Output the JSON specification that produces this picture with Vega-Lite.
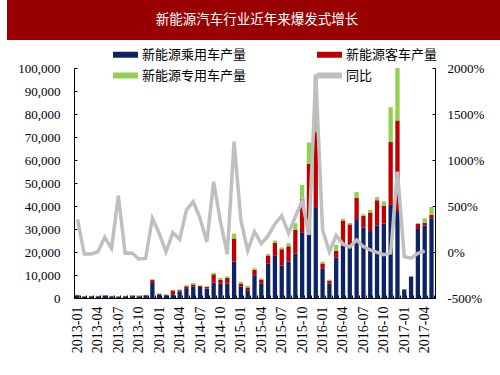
{
  "$schema": "https://vega.github.io/schema/vega-lite/v6.json",
  "padding": 0,
  "background": "white",
  "spacing": 0,
  "config": {"view": {"stroke": null}, "font": "Liberation Serif"},
  "vconcat": [
    {
      "width": 500,
      "height": 40,
      "view": {"fill": "#990000", "stroke": null},
      "data": {"values": [{"title": "新能源汽车行业近年来爆发式增长"}]},
      "mark": {"type": "text", "color": "white", "font": "Noto Sans CJK SC", "fontSize": 13.5},
      "encoding": {"text": {"field": "title"}}
    },
    {
      "width": 500,
      "height": 258,
      "data": {
        "values": [
          {"m": "2013-01", "a_passenger": 1000, "b_bus": 300, "c_special": 100, "yoy": 355},
          {"m": "2013-02", "a_passenger": 600, "b_bus": 200, "c_special": 100, "yoy": -22},
          {"m": "2013-03", "a_passenger": 700, "b_bus": 200, "c_special": 100, "yoy": -22},
          {"m": "2013-04", "a_passenger": 600, "b_bus": 300, "c_special": 100, "yoy": 3},
          {"m": "2013-05", "a_passenger": 900, "b_bus": 300, "c_special": 100, "yoy": 160},
          {"m": "2013-06", "a_passenger": 700, "b_bus": 200, "c_special": 100, "yoy": 40},
          {"m": "2013-07", "a_passenger": 500, "b_bus": 200, "c_special": 100, "yoy": 612},
          {"m": "2013-08", "a_passenger": 600, "b_bus": 300, "c_special": 100, "yoy": -14},
          {"m": "2013-09", "a_passenger": 800, "b_bus": 300, "c_special": 100, "yoy": -10},
          {"m": "2013-10", "a_passenger": 700, "b_bus": 300, "c_special": 100, "yoy": -76},
          {"m": "2013-11", "a_passenger": 1000, "b_bus": 300, "c_special": 100, "yoy": -70},
          {"m": "2013-12", "a_passenger": 6500, "b_bus": 1300, "c_special": 400, "yoy": 366},
          {"m": "2014-01", "a_passenger": 1500, "b_bus": 300, "c_special": 200, "yoy": 203},
          {"m": "2014-02", "a_passenger": 1200, "b_bus": 200, "c_special": 200, "yoy": 3},
          {"m": "2014-03", "a_passenger": 1600, "b_bus": 1700, "c_special": 300, "yoy": 210},
          {"m": "2014-04", "a_passenger": 2900, "b_bus": 500, "c_special": 300, "yoy": 138},
          {"m": "2014-05", "a_passenger": 3900, "b_bus": 1200, "c_special": 400, "yoy": 456},
          {"m": "2014-06", "a_passenger": 5100, "b_bus": 800, "c_special": 600, "yoy": 547},
          {"m": "2014-07", "a_passenger": 4800, "b_bus": 400, "c_special": 300, "yoy": 366},
          {"m": "2014-08", "a_passenger": 4100, "b_bus": 700, "c_special": 300, "yoy": 112},
          {"m": "2014-09", "a_passenger": 6700, "b_bus": 3600, "c_special": 600, "yoy": 764},
          {"m": "2014-10", "a_passenger": 6200, "b_bus": 1800, "c_special": 700, "yoy": 329},
          {"m": "2014-11", "a_passenger": 6200, "b_bus": 2600, "c_special": 600, "yoy": -22},
          {"m": "2014-12", "a_passenger": 15900, "b_bus": 10000, "c_special": 2100, "yoy": 1200},
          {"m": "2015-01", "a_passenger": 5000, "b_bus": 1300, "c_special": 700, "yoy": 345},
          {"m": "2015-02", "a_passenger": 3400, "b_bus": 1200, "c_special": 700, "yoy": 16},
          {"m": "2015-03", "a_passenger": 9900, "b_bus": 2400, "c_special": 600, "yoy": 221},
          {"m": "2015-04", "a_passenger": 6200, "b_bus": 1800, "c_special": 500, "yoy": 90},
          {"m": "2015-05", "a_passenger": 14900, "b_bus": 3600, "c_special": 600, "yoy": 178},
          {"m": "2015-06", "a_passenger": 18300, "b_bus": 5600, "c_special": 1100, "yoy": 305},
          {"m": "2015-07", "a_passenger": 14200, "b_bus": 7000, "c_special": 800, "yoy": 395},
          {"m": "2015-08", "a_passenger": 15900, "b_bus": 6600, "c_special": 1300, "yoy": 203},
          {"m": "2015-09", "a_passenger": 19400, "b_bus": 10200, "c_special": 2900, "yoy": 384},
          {"m": "2015-10", "a_passenger": 28600, "b_bus": 14500, "c_special": 6100, "yoy": 555},
          {"m": "2015-11", "a_passenger": 28000, "b_bus": 30400, "c_special": 9200, "yoy": 185},
          {"m": "2015-12", "a_passenger": 39500, "b_bus": 32600, "c_special": 24700, "yoy": 1930},
          {"m": "2016-01", "a_passenger": 12700, "b_bus": 2300, "c_special": 800, "yoy": 239},
          {"m": "2016-02", "a_passenger": 6200, "b_bus": 1200, "c_special": 600, "yoy": 3},
          {"m": "2016-03", "a_passenger": 17500, "b_bus": 3100, "c_special": 2500, "yoy": 180},
          {"m": "2016-04", "a_passenger": 22900, "b_bus": 10800, "c_special": 800, "yoy": 85},
          {"m": "2016-05", "a_passenger": 23900, "b_bus": 8100, "c_special": 600, "yoy": 55},
          {"m": "2016-06", "a_passenger": 33900, "b_bus": 9600, "c_special": 2500, "yoy": 130},
          {"m": "2016-07", "a_passenger": 30600, "b_bus": 5100, "c_special": 700, "yoy": 58},
          {"m": "2016-08", "a_passenger": 29100, "b_bus": 8100, "c_special": 1100, "yoy": 22},
          {"m": "2016-09", "a_passenger": 31600, "b_bus": 10900, "c_special": 1400, "yoy": -5},
          {"m": "2016-10", "a_passenger": 32300, "b_bus": 7700, "c_special": 2000, "yoy": -30},
          {"m": "2016-11", "a_passenger": 40500, "b_bus": 27300, "c_special": 15100, "yoy": -10},
          {"m": "2016-12", "a_passenger": 37800, "b_bus": 39400, "c_special": 22800, "yoy": 873},
          {"m": "2017-01", "a_passenger": 3700, "b_bus": 100, "c_special": 100, "yoy": -51},
          {"m": "2017-02", "a_passenger": 9300, "b_bus": 100, "c_special": 100, "yoy": -67},
          {"m": "2017-03", "a_passenger": 30000, "b_bus": 2200, "c_special": 400, "yoy": -14},
          {"m": "2017-04", "a_passenger": 31500, "b_bus": 1200, "c_special": 2000, "yoy": 11},
          {"m": "2017-05", "a_passenger": 34400, "b_bus": 1800, "c_special": 3400, "yoy": null}
        ]
      },
      "layer": [
        {
          "transform": [{"fold": ["a_passenger", "b_bus", "c_special"], "as": ["series", "value"]}],
          "mark": {"type": "bar"},
          "encoding": {
            "x": {
              "field": "m",
              "type": "ordinal",
              "scale": {"type": "band", "range": [67, 428], "paddingInner": 0.37, "paddingOuter": 0.2},
              "axis": {
                "title": null,
                "labelAngle": -90,
                "labelExpr": "indexof(['01','04','07','10'], slice(datum.label, 5)) >= 0 ? datum.label : ''",
                "labelOverlap": false,
                "labelFont": "Liberation Serif",
                "labelFontSize": 14,
                "labelColor": "black",
                "labelPadding": 11,
                "tickBand": "extent",
                "tickSize": -3,
                "tickColor": "black",
                "domainColor": "black"
              }
            },
            "y": {
              "field": "value",
              "type": "quantitative",
              "stack": "zero",
              "scale": {"domain": [0, 100000], "range": [258, 28], "nice": false},
              "axis": {
                "orient": "left",
                "offset": -67,
                "title": null,
                "grid": false,
                "values": [0, 10000, 20000, 30000, 40000, 50000, 60000, 70000, 80000, 90000, 100000],
                "format": ",.0f",
                "labelFont": "Liberation Serif",
                "labelFontSize": 13,
                "labelColor": "black",
                "labelPadding": 17,
                "tickSize": -3,
                "tickColor": "black",
                "domainColor": "black"
              }
            },
            "color": {
              "field": "series",
              "type": "nominal",
              "scale": {
                "domain": ["a_passenger", "b_bus", "c_special", "yoy"],
                "range": ["#0C2466", "#C00000", "#92D050", "#BFBFBF"]
              },
              "legend": {
                "orient": "none",
                "legendX": 106,
                "legendY": 42,
                "direction": "horizontal",
                "columns": 2,
                "columnPadding": 70,
                "rowPadding": 1,
                "title": null,
                "labelFont": "Noto Sans CJK SC",
                "labelFontSize": 13,
                "labelColor": "black",
                "labelOffset": 4,
                "symbolType": "M-1,-0.24H1V0.24H-1Z",
                "symbolSize": 625,
                "symbolStrokeWidth": 0,
                "labelExpr": "datum.label == 'a_passenger' ? '新能源乘用车产量' : datum.label == 'b_bus' ? '新能源客车产量' : datum.label == 'c_special' ? '新能源专用车产量' : '同比'"
              }
            },
            "order": {"field": "series", "sort": "ascending"}
          }
        },
        {
          "mark": {"type": "line", "strokeWidth": 3.5},
          "encoding": {
            "x": {"field": "m", "type": "ordinal"},
            "y": {
              "field": "yoy",
              "type": "quantitative",
              "scale": {"domain": [-500, 2000], "range": [258, 28], "nice": false, "zero": false},
              "axis": {
                "orient": "right",
                "offset": -72,
                "title": null,
                "grid": false,
                "values": [-500, 0, 500, 1000, 1500, 2000],
                "labelExpr": "datum.value + '%'",
                "labelFont": "Liberation Serif",
                "labelFontSize": 13,
                "labelColor": "black",
                "labelPadding": 15,
                "tickSize": -3,
                "tickColor": "black",
                "domainColor": "black"
              }
            },
            "color": {"datum": "yoy"}
          }
        }
      ],
      "resolve": {"scale": {"y": "independent"}}
    }
  ]
}
